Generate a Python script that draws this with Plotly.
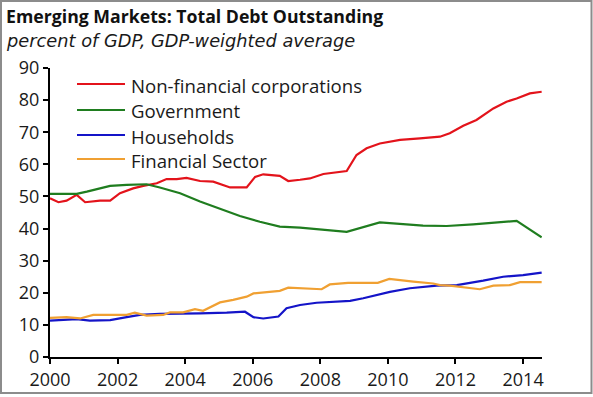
import plotly.graph_objects as go

# ---- data ----
corp_x = [2000.0, 2000.25, 2000.49, 2000.79, 2001.04, 2001.48, 2001.78, 2002.07, 2002.46, 2002.76,
          2003.16, 2003.45, 2003.75, 2004.04, 2004.44, 2004.83, 2005.33, 2005.82, 2006.07, 2006.31,
          2006.80, 2007.05, 2007.40, 2007.69, 2008.09, 2008.78, 2009.07, 2009.37, 2009.76, 2010.36,
          2010.95, 2011.54, 2011.83, 2012.23, 2012.62, 2013.12, 2013.51, 2013.81, 2014.20, 2014.55]
corp_y = [49.4, 48.2, 48.7, 50.5, 48.2, 48.7, 48.7, 51.0, 52.5, 53.3,
          54.1, 55.4, 55.4, 55.8, 54.8, 54.6, 52.8, 52.8, 56.1, 56.9,
          56.4, 54.8, 55.2, 55.6, 57.0, 57.9, 62.9, 65.0, 66.5, 67.6,
          68.1, 68.6, 69.7, 72.0, 73.8, 77.4, 79.5, 80.5, 82.1, 82.6]

gov_x = [2000.0, 2000.79, 2001.09, 2001.78, 2002.27, 2002.86, 2003.25, 2003.85, 2004.44, 2005.03,
         2005.62, 2006.21, 2006.80, 2007.40, 2008.78, 2009.76, 2011.04, 2011.74, 2012.52, 2013.81,
         2014.55]
gov_y = [50.8, 50.8, 51.5, 53.3, 53.6, 53.8, 52.8, 51.0, 48.4, 46.1,
         43.9, 42.1, 40.6, 40.3, 39.0, 41.9, 40.9, 40.8, 41.3, 42.4,
         37.3]

hh_x = [2000.0, 2000.49, 2000.79, 2001.18, 2001.78, 2002.27, 2002.66, 2003.25, 2003.85, 2004.44,
        2005.23, 2005.77, 2006.02, 2006.31, 2006.76, 2007.00, 2007.40, 2007.89, 2008.88, 2009.27,
        2010.06, 2010.65, 2011.44, 2012.04, 2012.82, 2013.41, 2014.00, 2014.55]
hh_y = [11.3, 11.5, 11.8, 11.3, 11.5, 12.4, 13.1, 13.4, 13.6, 13.6,
        13.8, 14.1, 12.4, 12.0, 12.6, 15.2, 16.2, 16.9, 17.5, 18.3,
        20.3, 21.4, 22.2, 22.4, 23.8, 25.0, 25.5, 26.3]

fin_x = [2000.0, 2000.49, 2000.89, 2001.28, 2001.78, 2002.27, 2002.51, 2002.86, 2003.35, 2003.55,
         2003.94, 2004.29, 2004.53, 2005.03, 2005.42, 2005.82, 2006.02, 2006.61, 2006.80, 2007.05,
         2007.40, 2008.04, 2008.28, 2008.82, 2009.70, 2010.04, 2010.75, 2011.34, 2011.54, 2011.83,
         2012.72, 2013.12, 2013.61, 2013.91, 2014.55]
fin_y = [12.2, 12.4, 12.0, 13.1, 13.1, 13.1, 13.8, 12.9, 13.1, 13.9,
         13.9, 14.9, 14.4, 17.0, 17.8, 18.8, 19.8, 20.3, 20.6, 21.6,
         21.4, 21.1, 22.6, 23.1, 23.1, 24.3, 23.5, 22.9, 22.4, 22.2,
         21.1, 22.2, 22.4, 23.3, 23.3]

series_names = ["Non-financial corporations", "Government", "Households", "Financial Sector"]
series_colors = ["#e3131b", "#1f7d1f", "#1414c8", "#f0a032"]
x_ticks = [2000, 2002, 2004, 2006, 2008, 2010, 2012, 2014]
y_ticks = [0, 10, 20, 30, 40, 50, 60, 70, 80, 90]

title_text = "Emerging Markets: Total Debt Outstanding"
subtitle_text = "percent of GDP, GDP-weighted average"

# ---- layout geometry (pixels) ----
W, H = 593, 397
L, R, T, B = 50, 51, 68, 40
PW, PH = W - L - R, H - T - B


def px(x):
    return (x - L) / PW


def py(y):
    return (H - B - y) / PH


FONT = "Open Sans"

fig = go.Figure()
all_x = [corp_x, gov_x, hh_x, fin_x]
all_y = [corp_y, gov_y, hh_y, fin_y]
for name, color, xs, ys in zip(series_names, series_colors, all_x, all_y):
    fig.add_trace(go.Scatter(x=xs, y=ys, mode="lines", name=name,
                             line=dict(color=color, width=2.2), showlegend=False))

shapes = []
annotations = []

# manual legend
leg_y = [84, 110, 135, 159]
for name, color, yy in zip(series_names, series_colors, leg_y):
    shapes.append(dict(type="line", xref="paper", yref="paper",
                       x0=px(77), x1=px(125), y0=py(yy), y1=py(yy),
                       line=dict(color=color, width=2.2)))
    annotations.append(dict(text=name, xref="paper", yref="paper", x=px(129), y=py(yy + 1),
                            xanchor="left", yanchor="middle", showarrow=False,
                            font=dict(family=FONT, size=18.6, color="#1a1a1a")))

# title and subtitle
annotations.append(dict(text="<b>" + title_text + "</b>", xref="paper", yref="paper",
                        x=px(4), y=py(16), xanchor="left", yanchor="middle", showarrow=False,
                        font=dict(family=FONT, size=17.7, color="#111111")))
annotations.append(dict(text="<i>" + subtitle_text + "</i>", xref="paper", yref="paper",
                        x=px(4), y=py(41), xanchor="left", yanchor="middle", showarrow=False,
                        font=dict(family="DejaVu Sans", size=17.8, color="#1a1a1a")))

# outer frame
shapes.append(dict(type="rect", xref="paper", yref="paper",
                   x0=px(1), x1=px(591.5), y0=py(1), y1=py(393),
                   line=dict(color="#8c8c8c", width=2), fillcolor="rgba(0,0,0,0)", layer="above"))

fig.update_layout(
    width=W, height=H,
    margin=dict(l=L, r=R, t=T, b=B, pad=0),
    paper_bgcolor="white", plot_bgcolor="white",
    showlegend=False,
    shapes=shapes, annotations=annotations,
    xaxis=dict(range=[2000, 2014.56], tickvals=x_ticks, ticktext=[str(v) for v in x_ticks],
               showgrid=False, zeroline=False, showline=True, linecolor="black", linewidth=2,
               ticks="outside", ticklen=5, tickwidth=2, tickcolor="black", automargin=False,
               tickfont=dict(family=FONT, size=18, color="#1a1a1a")),
    yaxis=dict(range=[0, 90], tickvals=y_ticks, ticktext=[str(v) for v in y_ticks],
               showgrid=False, zeroline=False, showline=True, linecolor="black", linewidth=2,
               ticks="outside", ticklen=5, tickwidth=2, tickcolor="black", automargin=False,
               tickfont=dict(family=FONT, size=18, color="#1a1a1a")),
)

fig.write_html("out.html", config={"displayModeBar": False},
               post_script="document.body.style.margin='0';document.body.style.padding='0';"
                           "document.documentElement.style.overflow='hidden';")
